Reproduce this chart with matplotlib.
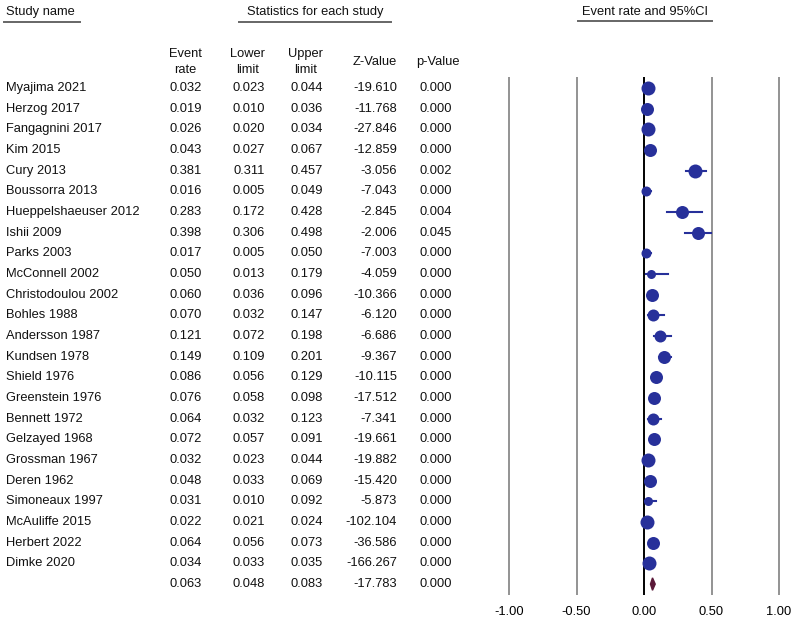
import matplotlib
matplotlib.use("Agg")
import matplotlib.pyplot as plt
from matplotlib.patches import Polygon

plt.rcParams['font.family'] = ['Liberation Sans', 'DejaVu Sans']

studies = ['Myajima 2021', 'Herzog 2017', 'Fangagnini 2017', 'Kim 2015', 'Cury 2013',
           'Boussorra 2013', 'Hueppelshaeuser 2012', 'Ishii 2009', 'Parks 2003',
           'McConnell 2002', 'Christodoulou 2002', 'Bohles 1988', 'Andersson 1987',
           'Kundsen 1978', 'Shield 1976', 'Greenstein 1976', 'Bennett 1972',
           'Gelzayed 1968', 'Grossman 1967', 'Deren 1962', 'Simoneaux 1997',
           'McAuliffe 2015', 'Herbert 2022', 'Dimke 2020']
rate = [0.032, 0.019, 0.026, 0.043, 0.381, 0.016, 0.283, 0.398, 0.017, 0.050, 0.060, 0.070,
        0.121, 0.149, 0.086, 0.076, 0.064, 0.072, 0.032, 0.048, 0.031, 0.022, 0.064, 0.034]
lower = [0.023, 0.010, 0.020, 0.027, 0.311, 0.005, 0.172, 0.306, 0.005, 0.013, 0.036, 0.032,
         0.072, 0.109, 0.056, 0.058, 0.032, 0.057, 0.023, 0.033, 0.010, 0.021, 0.056, 0.033]
upper = [0.044, 0.036, 0.034, 0.067, 0.457, 0.049, 0.428, 0.498, 0.050, 0.179, 0.096, 0.147,
         0.198, 0.201, 0.129, 0.098, 0.123, 0.091, 0.044, 0.069, 0.092, 0.024, 0.073, 0.035]
zval = [-19.610, -11.768, -27.846, -12.859, -3.056, -7.043, -2.845, -2.006, -7.003, -4.059,
        -10.366, -6.120, -6.686, -9.367, -10.115, -17.512, -7.341, -19.661, -19.882, -15.420,
        -5.873, -102.104, -36.586, -166.267]
pval = [0.000, 0.000, 0.000, 0.000, 0.002, 0.000, 0.004, 0.045, 0.000, 0.000, 0.000, 0.000,
        0.000, 0.000, 0.000, 0.000, 0.000, 0.000, 0.000, 0.000, 0.000, 0.000, 0.000, 0.000]
# relative weight shown by marker size (diameter in px)
marker_px = [14, 13, 14, 13, 14, 10, 13, 13, 10, 9, 13, 12, 12, 13, 13, 13, 12, 13, 14, 13,
             9, 14, 13, 14]
summary = (0.063, 0.048, 0.083, -17.783, 0.000)
xticks = [-1.0, -0.5, 0.0, 0.5, 1.0]

W, H = 800, 626
fig = plt.figure(figsize=(W / 100, H / 100), dpi=100)

# text layer in pixel coordinates
tx = fig.add_axes([0, 0, 1, 1])
tx.set_xlim(0, W)
tx.set_ylim(H, 0)
tx.axis('off')

row0, dy = 88, 20.67
fs = 9.3
col = '#111111'

tx.text(6, 12, 'Study name', fontsize=fs, color=col, va='center')
tx.plot([4, 80], [22, 22], color='#666666', lw=1.4)
tx.text(315, 12, 'Statistics for each study', fontsize=fs, color=col, va='center', ha='center')
tx.plot([239, 391], [22, 22], color='#666666', lw=1.4)
tx.text(645, 12, 'Event rate and 95%CI', fontsize=fs, color=col, va='center', ha='center')
tx.plot([578, 712], [21, 21], color='#666666', lw=1.4)

heads = [('Event\nrate', 202), ('Lower\nlimit', 265), ('Upper\nlimit', 323),
         ('Z-Value', 397), ('p-Value', 460)]
for lab, xr in heads:
    tx.text(xr, 62, lab, fontsize=fs, color=col, ha='right', va='center',
            multialignment='center', linespacing=1.35)

cols_x = [202, 265, 323, 397, 452]
for i, name in enumerate(studies):
    y = row0 + i * dy
    tx.text(6, y, name, fontsize=fs, color=col, va='center')
    vals = ['%.3f' % rate[i], '%.3f' % lower[i], '%.3f' % upper[i],
            '%.3f' % zval[i], '%.3f' % pval[i]]
    for v, xr in zip(vals, cols_x):
        tx.text(xr, y, v, fontsize=fs, color=col, ha='right', va='center')
y = row0 + len(studies) * dy
for v, xr in zip(summary, cols_x):
    tx.text(xr, y, '%.3f' % v, fontsize=fs, color=col, ha='right', va='center')

# forest plot axes
left_px, right_px, top_px, bot_px = 480, 800, 77, 595
ax = fig.add_axes([left_px / W, 1 - bot_px / H, (right_px - left_px) / W, (bot_px - top_px) / H])
ppu = 135.0
x_m1 = 509
ax.set_xlim(-1 - (x_m1 - left_px) / ppu, -1 + (right_px - x_m1) / ppu)
ax.set_ylim((bot_px - row0) / dy, (top_px - row0) / dy)
for s in ax.spines.values():
    s.set_visible(False)
ax.set_yticks([])
ax.set_xticks(xticks)
ax.set_xticklabels(['%.2f' % t for t in xticks], fontsize=fs, color='black')
ax.tick_params(axis='x', length=0, pad=8)
for t in xticks:
    if t == 0:
        ax.axvline(t, color='black', lw=1.4, zorder=2)
    else:
        ax.axvline(t, color='#8a8a8a', lw=1.3, zorder=1)

navy = '#27309a'
for i in range(len(studies)):
    ax.plot([lower[i], upper[i]], [i, i], color=navy, lw=1.5, zorder=3)
    ax.plot(rate[i], i, 'o', color=navy, markersize=marker_px[i] * 0.72,
            markeredgewidth=0, zorder=4)

n = len(studies)
est, lo, hi = summary[0], summary[1], summary[2]
ax.add_patch(Polygon([[lo, n], [est, n - 0.3], [hi, n], [est, n + 0.3]],
                     closed=True, facecolor='#5a1838', edgecolor='#5a1838', zorder=4))

fig.savefig('out.png', dpi=100)
